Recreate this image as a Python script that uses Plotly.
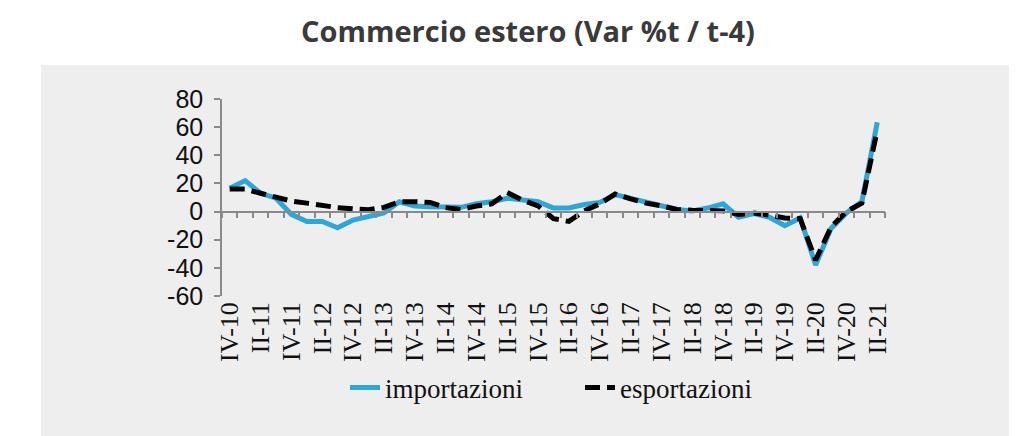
import plotly.graph_objects as go

quarters = []
years = list(range(10, 22))
for yy in years:
    for q in ["I", "II", "III", "IV"]:
        quarters.append(f"{q}-{yy:02d}")
quarters = quarters[quarters.index("IV-10"):quarters.index("II-21") + 1]

importazioni = [16.5, 22, 13, 9.5, -2, -7, -7, -11.5, -6, -3.5, -1, 7, 4, 3.5, 3,
                3, 5.5, 7, 9.5, 8.5, 7, 2.5, 2.5, 5, 6.5, 12, 9.5, 6.5, 4.5, 1.5,
                0.5, 2.5, 5.5, -4, -1.5, -4, -10, -4.5, -38, -12, -1, 7, 63.5]
esportazioni = [16, 16, 13, 10, 7.5, 6, 4.2, 2.8, 2, 1.3, 3, 7, 7, 6.5, 2.8,
                1.5, 4, 5.5, 13.5, 8, 4, -5, -7, 0.5, 5.5, 12.5, 9, 6, 4, 1.5,
                1, 0.5, 0.5, -2, -1, -2.5, -4.5, -5, -34.5, -11, 0, 6, 58]

tick_labels = quarters[::2]
y_ticks = list(range(-60, 81, 20))
y_ticktext = [str(v) for v in y_ticks]

# page has an 8px body margin; geometry below is in figure pixels
OFF = 8
W, H = 1017 - OFF, 436 - OFF
L, T, PW, PH = 222 - OFF, 99 - OFF, 663, 197
B = H - T - PH
R = W - L - PW
ymin, ymax = -60, 80
zero_pos = (0 - ymin) / (ymax - ymin)

fig = go.Figure()
fig.add_trace(go.Scatter(
    x=quarters, y=importazioni, name="importazioni", mode="lines",
    line=dict(color="#2aa8da", width=5),
))
fig.add_trace(go.Scatter(
    x=quarters, y=esportazioni, name="esportazioni", mode="lines",
    line=dict(color="#000000", width=5, dash="15px,7px"),
))
fig.add_trace(go.Scatter(x=[], y=[], xaxis="x2", showlegend=False, hoverinfo="skip"))

fig.add_shape(
    type="rect", xref="paper", yref="paper",
    x0=(41 - OFF - L) / PW, x1=(1013 - OFF - L) / PW,
    y0=-(B + 10) / PH, y1=(PH + T - (65 - OFF)) / PH,
    fillcolor="#eeeeee", line=dict(width=0), layer="below",
)

legend_item_start = 345 - OFF

fig.update_layout(
    width=W, height=H,
    margin=dict(l=L, r=R, t=T, b=B, pad=0),
    paper_bgcolor="white",
    plot_bgcolor="rgba(0,0,0,0)",
    title=dict(
        text="<b>Commercio estero (Var %t / t-4)</b>",
        x=(528 - OFF) / W, xref="container", xanchor="center",
        y=1 - (32 - OFF) / H, yref="container", yanchor="middle",
        font=dict(family="Open Sans", size=29, color="#3a3a3a"),
    ),
    xaxis=dict(
        type="category",
        categoryorder="array", categoryarray=quarters,
        range=[-0.5, len(quarters) - 0.5],
        tickmode="array", tickvals=tick_labels, ticktext=tick_labels,
        tickangle=-90, ticks="", showline=False, showgrid=False, zeroline=False,
        tickfont=dict(family="Liberation Serif", size=26, color="#111111"),
    ),
    xaxis2=dict(
        overlaying="x", anchor="free", position=zero_pos,
        type="linear", range=[-0.5, len(quarters) - 0.5],
        tickmode="linear", tick0=-0.5, dtick=1,
        ticks="outside", ticklen=6, tickwidth=1.5, tickcolor="#8a8a8a",
        showline=True, linecolor="#8a8a8a", linewidth=1.5,
        showticklabels=False, showgrid=False, zeroline=False,
    ),
    yaxis=dict(
        range=[ymin, ymax], tickmode="array", tickvals=y_ticks, ticktext=y_ticktext,
        ticks="outside", ticklen=6, tickwidth=1.5, tickcolor="#8a8a8a",
        showline=True, linecolor="#8a8a8a", linewidth=1.5,
        showgrid=False, zeroline=False, ticklabelstandoff=6,
        tickfont=dict(family="Liberation Sans", size=25, color="#111111"),
    ),
    legend=dict(
        orientation="h", x=(legend_item_start - L) / PW, xanchor="left",
        y=-(388 - 99 - 197) / PH, yanchor="middle",
        entrywidth=190, entrywidthmode="pixels",
        bgcolor="rgba(0,0,0,0)",
        font=dict(family="Liberation Serif", size=27, color="#111111"),
    ),
    showlegend=True,
)

fig.write_html("out.html")
